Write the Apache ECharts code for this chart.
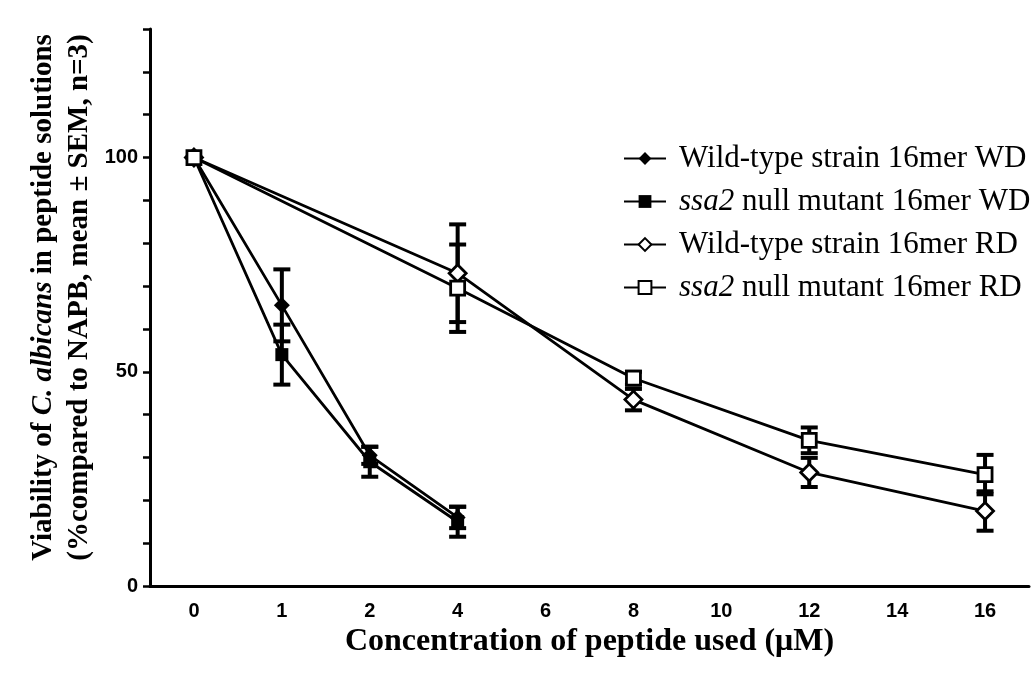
<!DOCTYPE html>
<html>
<head>
<meta charset="utf-8">
<script src="https://cdn.jsdelivr.net/npm/echarts@6/dist/echarts.min.js"></script>
<style>
  html, body { margin: 0; padding: 0; background: #fff; }
  #chart { width: 1034px; height: 675px; }
</style>
</head>
<body>
<div id="chart"></div>
<script>
// Peptide concentrations (µM), shown as evenly spaced categories
const concentrations = ['0', '1', '2', '4', '6', '8', '10', '12', '14', '16'];
const wdDoses = ['0', '1', '2', '4'];
const rdDoses = ['0', '4', '8', '12', '16'];

// Viability (% of NAPB control), mean and SEM
const wildTypeWD = [100, 65.5, 30.5, 16];
const wildTypeWDsem = [0, 8.4, 2, 2.5];
const ssa2WD = [100, 54, 29, 15];
const ssa2WDsem = [0, 7, 3.5, 3.5];
const wildTypeRD = [100, 73, 43.5, 26.5, 17.5];
const wildTypeRDsem = [0, 11.4, 2.5, 3.4, 4.6];
const ssa2RD = [100, 69.5, 48.5, 34, 26];
const ssa2RDsem = [0, 10.2, 1.5, 3, 4.6];

const seriesNames = [
  'Wild-type strain 16mer WD',
  'ssa2 null mutant 16mer WD',
  'Wild-type strain 16mer RD',
  'ssa2 null mutant 16mer RD'
];

const serif = 'Liberation Serif, Times New Roman, serif';
const sans = 'Liberation Sans, Arial, sans-serif';

function lineSeries(name, doses, values, symbol, size, hollow) {
  return {
    name: name,
    type: 'line',
    data: doses.map((d, i) => [d, values[i]]),
    symbol: symbol,
    symbolSize: size,
    showAllSymbol: true,
    z: 3,
    lineStyle: { color: '#000', width: 2.8 },
    itemStyle: hollow
      ? { color: '#fff', borderColor: '#000', borderWidth: 2.8 }
      : { color: '#000', borderColor: '#000', borderWidth: 0 },
    emphasis: { disabled: true }
  };
}

function errorBars(doses, means, sems) {
  return {
    type: 'custom',
    silent: true,
    z: 2,
    data: doses.map((d, i) => [d, means[i] - sems[i], means[i] + sems[i]]),
    encode: { x: 0, y: [1, 2] },
    renderItem: function (params, api) {
      const lo = api.coord([api.value(0), api.value(1)]);
      const hi = api.coord([api.value(0), api.value(2)]);
      if (Math.abs(hi[1] - lo[1]) < 0.5) return null;
      const hw = 8.5;
      const st = { stroke: '#000', lineWidth: 4 };
      return {
        type: 'group',
        children: [
          { type: 'line', shape: { x1: lo[0], y1: lo[1], x2: hi[0], y2: hi[1] }, style: st },
          { type: 'line', shape: { x1: lo[0] - hw, y1: lo[1], x2: lo[0] + hw, y2: lo[1] }, style: st },
          { type: 'line', shape: { x1: hi[0] - hw, y1: hi[1], x2: hi[0] + hw, y2: hi[1] }, style: st }
        ]
      };
    }
  };
}

const chart = echarts.init(document.getElementById('chart'), null, { renderer: 'canvas' });

chart.setOption({
  animation: false,
  backgroundColor: '#fff',
  grid: { left: 150, right: 5, top: 29, bottom: 89, containLabel: false },
  legend: {
    data: seriesNames,
    orient: 'vertical',
    left: 618,
    top: 138,
    itemWidth: 42,
    itemHeight: 16,
    itemGap: 12,
    selectedMode: false,
    textStyle: {
      fontFamily: serif,
      fontSize: 31,
      lineHeight: 31,
      color: '#000',
      padding: [0, 0, 0, 8],
      rich: {
        i: { fontFamily: serif, fontSize: 31, lineHeight: 31, fontStyle: 'italic', color: '#000' }
      }
    },
    formatter: function (name) {
      return name.indexOf('ssa2') === 0 ? '{i|ssa2}' + name.slice(4) : name;
    }
  },
  xAxis: {
    type: 'category',
    data: concentrations,
    boundaryGap: true,
    name: 'Concentration of peptide used (\u03bcM)',
    nameLocation: 'middle',
    nameGap: 27,
    nameTextStyle: { fontFamily: serif, fontWeight: 'bold', fontSize: 32, color: '#000' },
    axisLine: { lineStyle: { color: '#000', width: 3 } },
    axisTick: { alignWithLabel: true, length: 9, lineStyle: { color: '#000', width: 2.5 } },
    axisLabel: { fontFamily: sans, fontWeight: 'bold', fontSize: 20, color: '#000', margin: 15 },
    splitLine: { show: false }
  },
  yAxis: {
    type: 'value',
    min: 0,
    max: 130,
    interval: 10,
    name: '{a|Viability of }{b|C. albicans}{a| in peptide solutions}\n{a|(%compared to NAPB, mean \u00b1 SEM, n=3)}',
    nameLocation: 'middle',
    nameRotate: 90,
    nameGap: 44,
    nameTextStyle: {
      padding: [0, 0, 0, 20],
      rich: {
        a: { fontFamily: serif, fontWeight: 'bold', fontSize: 29, color: '#000', lineHeight: 36 },
        b: { fontFamily: serif, fontWeight: 'bold', fontStyle: 'italic', fontSize: 29, color: '#000', lineHeight: 36 }
      }
    },
    axisLine: { show: true, lineStyle: { color: '#000', width: 3 } },
    axisTick: { show: true, length: 7, lineStyle: { color: '#000', width: 2.5 } },
    axisLabel: {
      fontFamily: sans, fontWeight: 'bold', fontSize: 20, color: '#000', margin: 12,
      formatter: function (v) { return v % 50 === 0 && v <= 100 ? String(v) : ''; }
    },
    splitLine: { show: false }
  },
  series: [
    errorBars(wdDoses, wildTypeWD, wildTypeWDsem),
    errorBars(wdDoses, ssa2WD, ssa2WDsem),
    errorBars(rdDoses, wildTypeRD, wildTypeRDsem),
    errorBars(rdDoses, ssa2RD, ssa2RDsem),
    lineSeries(seriesNames[0], wdDoses, wildTypeWD, 'diamond', 16, false),
    lineSeries(seriesNames[1], wdDoses, ssa2WD, 'rect', 13, false),
    lineSeries(seriesNames[2], rdDoses, wildTypeRD, 'diamond', 17, true),
    lineSeries(seriesNames[3], rdDoses, ssa2RD, 'rect', 14, true)
  ]
});
</script>
</body>
</html>
